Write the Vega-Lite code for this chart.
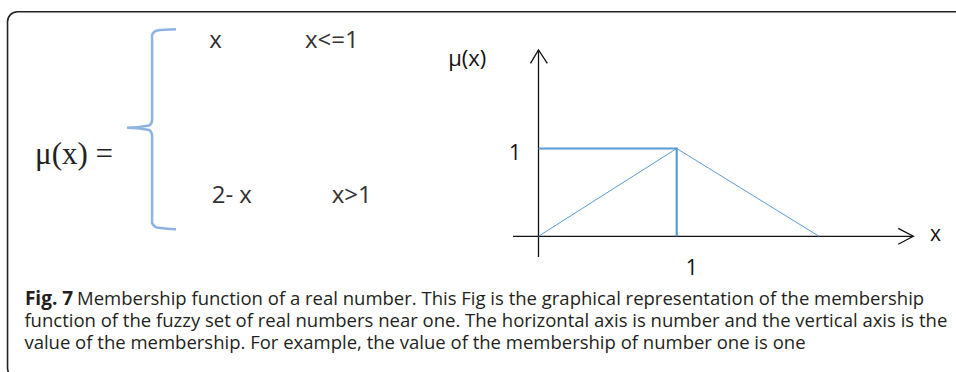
{
  "$schema": "https://vega.github.io/schema/vega-lite/v6.json",
  "width": 956,
  "height": 372,
  "autosize": {"type": "fit", "contains": "padding"},
  "padding": 0,
  "background": "white",
  "config": {"view": {"stroke": null}},
  "encoding": {
    "x": {"field": "x", "type": "quantitative", "scale": {"domain": [-3.8965, 3.021], "nice": false, "zero": false}, "axis": null},
    "y": {"field": "y", "type": "quantitative", "scale": {"domain": [-1.5456, 2.6913], "nice": false, "zero": false}, "axis": null}
  },
  "layer": [
    {
      "data": {"values": [{"x": -3.842, "x2": 3.3, "y": 2.558, "y2": -1.614}]},
      "mark": {"type": "rect", "fillOpacity": 0, "stroke": "#222222", "strokeWidth": 1.6, "cornerRadius": 10, "clip": true},
      "encoding": {"x2": {"field": "x2"}, "y2": {"field": "y2"}}
    },
    {
      "data": {"values": [
        {"i": 1, "x": -2.623, "y": 2.358},
        {"i": 2, "x": -2.760, "y": 2.344},
        {"i": 3, "x": -2.796, "y": 2.298},
        {"i": 4, "x": -2.796, "y": 1.313},
        {"i": 5, "x": -2.818, "y": 1.262},
        {"i": 6, "x": -2.978, "y": 1.237},
        {"i": 7, "x": -2.818, "y": 1.211},
        {"i": 8, "x": -2.796, "y": 1.159},
        {"i": 9, "x": -2.796, "y": 0.151},
        {"i": 10, "x": -2.760, "y": 0.100},
        {"i": 11, "x": -2.623, "y": 0.080}
      ]},
      "mark": {"type": "line", "color": "#8db3e2", "strokeWidth": 2.5, "interpolate": "monotone"},
      "encoding": {"order": {"field": "i", "type": "quantitative"}}
    },
    {
      "data": {"values": [
        {"seg": "yaxis", "i": 1, "x": 0, "y": -0.236},
        {"seg": "yaxis", "i": 2, "x": 0, "y": 2.122},
        {"seg": "xaxis", "i": 1, "x": -0.185, "y": 0},
        {"seg": "xaxis", "i": 2, "x": 2.712, "y": 0},
        {"seg": "yarrow", "i": 1, "x": -0.058, "y": 1.970},
        {"seg": "yarrow", "i": 2, "x": 0, "y": 2.122},
        {"seg": "yarrow", "i": 3, "x": 0.064, "y": 1.970},
        {"seg": "xarrow", "i": 1, "x": 2.603, "y": 0.091},
        {"seg": "xarrow", "i": 2, "x": 2.712, "y": 0},
        {"seg": "xarrow", "i": 3, "x": 2.603, "y": -0.091}
      ]},
      "mark": {"type": "line", "color": "#111111", "strokeWidth": 1.3},
      "encoding": {"detail": {"field": "seg"}, "order": {"field": "i", "type": "quantitative"}}
    },
    {
      "data": {"values": [
        {"i": 1, "x": 0, "y": 1},
        {"i": 2, "x": 1, "y": 1},
        {"i": 3, "x": 1, "y": 0}
      ]},
      "mark": {"type": "line", "color": "#5b9bd5", "strokeWidth": 2.2},
      "encoding": {"order": {"field": "i", "type": "quantitative"}}
    },
    {
      "data": {"values": [
        {"i": 1, "x": 0, "y": 0},
        {"i": 2, "x": 1, "y": 1},
        {"i": 3, "x": 2.03, "y": 0}
      ]},
      "mark": {"type": "line", "color": "#5b9bd5", "strokeWidth": 1},
      "encoding": {"order": {"field": "i", "type": "quantitative"}}
    },
    {
      "data": {"values": [{"x": -3.643, "y": 0.829, "t": "μ(x) ="}]},
      "mark": {"type": "text", "align": "left", "baseline": "alphabetic", "font": "Liberation Serif", "fontSize": 31, "color": "#222222"},
      "encoding": {"text": {"field": "t"}}
    },
    {
      "data": {"values": [
        {"x": -2.382, "y": 2.141, "t": "x"},
        {"x": -1.690, "y": 2.141, "t": "x<=1"},
        {"x": -2.365, "y": 0.376, "t": "2- x"},
        {"x": -1.496, "y": 0.376, "t": "x>1"}
      ]},
      "mark": {"type": "text", "align": "left", "baseline": "alphabetic", "font": "Open Sans", "fontSize": 24, "color": "#333333"},
      "encoding": {"text": {"field": "t"}}
    },
    {
      "data": {"values": [
        {"x": -0.653, "y": 1.940, "t": "μ(x)"}
      ]},
      "mark": {"type": "text", "align": "left", "baseline": "alphabetic", "font": "Open Sans", "fontSize": 22, "color": "#111111"},
      "encoding": {"text": {"field": "t"}}
    },
    {
      "data": {"values": [
        {"x": -0.170, "y": 0.869, "t": "1"},
        {"x": 1.109, "y": -0.441, "t": "1"}
      ]},
      "mark": {"type": "text", "align": "center", "baseline": "alphabetic", "font": "Open Sans", "fontSize": 21, "color": "#111111"},
      "encoding": {"text": {"field": "t"}}
    },
    {
      "data": {"values": [{"x": 2.833, "y": -0.054, "t": "x"}]},
      "mark": {"type": "text", "align": "left", "baseline": "alphabetic", "font": "Open Sans", "fontSize": 21, "color": "#111111"},
      "encoding": {"text": {"field": "t"}}
    },
    {
      "data": {"values": [{"x": -3.716, "y": -0.788, "t": "Fig. 7"}]},
      "mark": {"type": "text", "align": "left", "baseline": "alphabetic", "font": "Open Sans", "fontWeight": "bold", "fontSize": 19, "color": "#231f20"},
      "encoding": {"text": {"field": "t"}}
    },
    {
      "data": {"values": [
        {"x": -3.339, "y": -0.788, "t": "Membership function of a real number. This Fig is the graphical representation of the membership"},
        {"x": -3.720, "y": -1.033, "t": "function of the fuzzy set of real numbers near one. The horizontal axis is number and the vertical axis is the"},
        {"x": -3.720, "y": -1.278, "t": "value of the membership. For example, the value of the membership of number one is one"}
      ]},
      "mark": {"type": "text", "align": "left", "baseline": "alphabetic", "font": "Open Sans", "fontSize": 18.5, "color": "#231f20"},
      "encoding": {"text": {"field": "t"}}
    }
  ]
}
